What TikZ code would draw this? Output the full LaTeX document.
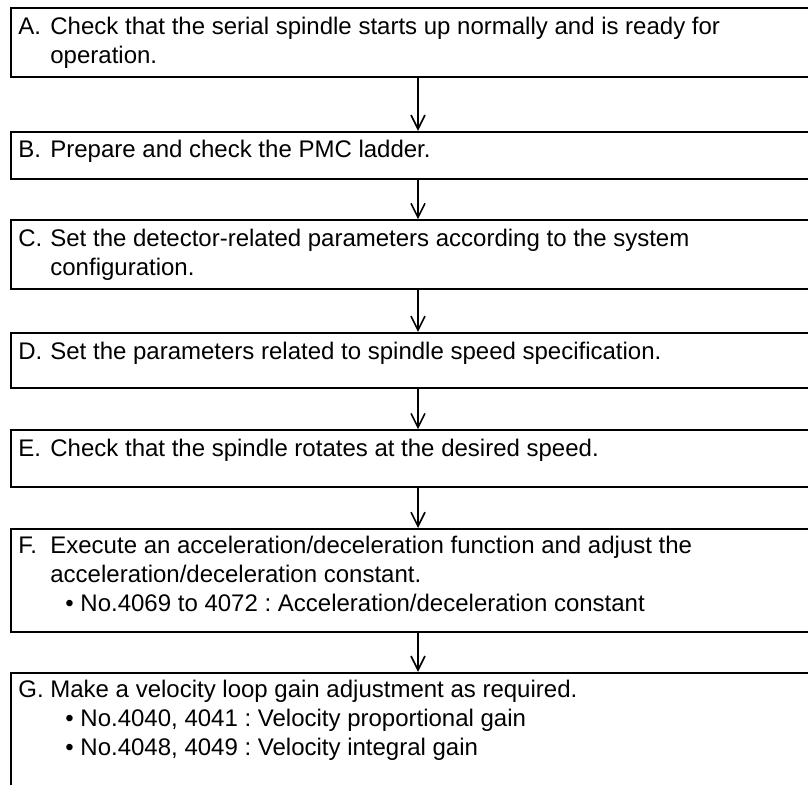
\documentclass[tikz,border=0pt]{standalone}
\usepackage{fontspec}
\setmainfont{Liberation Sans}
\usetikzlibrary{positioning,arrows.meta}
\frenchspacing
\newcommand{\steplines}[2]{\begin{tabular}[t]{@{}p{16pt}@{}l@{}}#1 & #2\end{tabular}}
\newcommand{\stepitem}{\hspace*{7.5pt}\textbullet\ }

\begin{document}
\begin{tikzpicture}[
  font=\fontsize{12}{14.5}\selectfont,
  >={Straight Barb[length=7pt,width=7pt]},
  stepbox/.style={
    rectangle, draw, line width=0.9pt, anchor=north west,
    minimum width=430pt, inner sep=0pt
  },
  steptext/.style={anchor=base west, inner sep=0pt},
  flow/.style={->, line width=0.8pt}
]
  \useasboundingbox (0,0) rectangle (404pt,-392.5pt);
  \clip (0,0) rectangle (404pt,-392.5pt);
  \coordinate (axis) at (209pt,0);

  % A
  \node[stepbox, minimum height=34.5pt] (boxA) at (5pt,-3.5pt) {};
  \node[steptext] (txtA) at ([xshift=4pt,yshift=-14pt]boxA.north west) {\steplines{A.}{Check that the serial spindle starts up normally and is ready for\\ & operation.}};

  % B
  \node[stepbox, minimum height=23.75pt, below=26.5pt of boxA.south west, anchor=north west] (boxB) {};
  \node[steptext] (txtB) at ([xshift=4pt,yshift=-13.5pt]boxB.north west) {\steplines{B.}{Prepare and check the PMC ladder.}};

  % C
  \node[stepbox, minimum height=34.5pt, below=19.5pt of boxB.south west, anchor=north west] (boxC) {};
  \node[steptext] (txtC) at ([xshift=4pt,yshift=-13.5pt]boxC.north west) {\steplines{C.}{Set the detector-related parameters according to the system\\ & configuration.}};

  % D
  \node[stepbox, minimum height=27.5pt, below=21pt of boxC.south west, anchor=north west] (boxD) {};
  \node[steptext] (txtD) at ([xshift=4pt,yshift=-13.75pt]boxD.north west) {\steplines{D.}{Set the parameters related to spindle speed specification.}};

  % E
  \node[stepbox, minimum height=28.5pt, below=20.25pt of boxD.south west, anchor=north west] (boxE) {};
  \node[steptext] (txtE) at ([xshift=4pt,yshift=-13.5pt]boxE.north west) {\steplines{E.}{Check that the spindle rotates at the desired speed.}};

  % F
  \node[stepbox, minimum height=51.5pt, below=20pt of boxE.south west, anchor=north west] (boxF) {};
  \node[steptext] (txtF) at ([xshift=4pt,yshift=-12.75pt]boxF.north west) {\steplines{F.}{Execute an acceleration/deceleration function and adjust the\\ & acceleration/deceleration constant.\\ & \stepitem No.4069 to 4072 : Acceleration/deceleration constant}};

  % G
  \node[stepbox, minimum height=75pt, below=19.5pt of boxF.south west, anchor=north west] (boxG) {};
  \node[steptext] (txtG) at ([xshift=4pt,yshift=-13pt]boxG.north west) {\steplines{G.}{Make a velocity loop gain adjustment as required.\\ & \stepitem No.4040, 4041 : Velocity proportional gain\\ & \stepitem No.4048, 4049 : Velocity integral gain}};

  % Flujo
  \draw[flow] (boxA.south -| axis) -- (boxB.north -| axis);
  \draw[flow] (boxB.south -| axis) -- (boxC.north -| axis);
  \draw[flow] (boxC.south -| axis) -- (boxD.north -| axis);
  \draw[flow] (boxD.south -| axis) -- (boxE.north -| axis);
  \draw[flow] (boxE.south -| axis) -- (boxF.north -| axis);
  \draw[flow] (boxF.south -| axis) -- (boxG.north -| axis);

\end{tikzpicture}
\end{document}
